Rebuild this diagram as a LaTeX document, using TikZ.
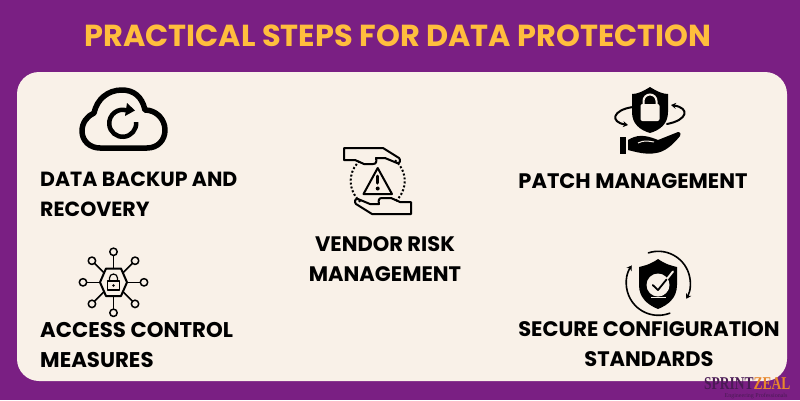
\documentclass[tikz,border=0pt]{standalone}
\usepackage{fontspec}
\setmainfont{Poppins}
\newfontfamily\logofont{Liberation Serif}
\usepackage{tikz}
\usetikzlibrary{arrows.meta}
\definecolor{bgpurple}{HTML}{7A1F83}
\definecolor{cardcream}{HTML}{F9F1E8}
\definecolor{titleyellow}{HTML}{FFBE3D}
\definecolor{logopurple}{HTML}{4A1A55}
\definecolor{logoorange}{HTML}{E8872B}
\newcommand{\labelfont}{\fontsize{21}{30}\selectfont\bfseries}
\begin{document}
\begin{tikzpicture}[x=1pt,y=-1pt,
  steplabel/.style={text=black,inner sep=0pt,font=\labelfont},
  iconline/.style={draw=black,line width=#1,line cap=round,line join=round},
  iconline/.default=2pt,
  icontip/.style={-{Stealth[length=5pt,width=6pt]}}]
\useasboundingbox (0,0) rectangle (800,400);
\fill[bgpurple] (0,0) rectangle (800,400);
\fill[cardcream,rounded corners=22pt] (17,72) rectangle (787,381);
\node[text=titleyellow,inner sep=0pt,font=\fontsize{30.4}{34}\selectfont\bfseries] (title) at (398,36) {PRACTICAL STEPS FOR DATA PROTECTION};
% labels
\node[steplabel,align=left,anchor=north west,font=\fontsize{20.5}{30}\selectfont\bfseries] (backup) at (40,172) {DATA BACKUP AND\\RECOVERY};
\node[steplabel,align=left,anchor=north west,font=\fontsize{21.3}{30}\selectfont\bfseries] (access) at (40,322) {ACCESS CONTROL\\MEASURES};
\node[steplabel,align=center] (vendor) at (385,259) {VENDOR RISK\\MANAGEMENT};
\node[steplabel] (patch) at (633,181) {PATCH MANAGEMENT};
\node[steplabel,align=center] (secure) at (649,344) {SECURE CONFIGURATION\\STANDARDS};
% cloud
\draw[iconline=5.5pt] (100,148) -- (147,148) .. controls (158,148) and (165,140) .. (165,130)
  .. controls (165,119) and (156,110) .. (145,110) .. controls (142,96) and (133,90) .. (122,90)
  .. controls (108,90) and (97,99) .. (94,113) .. controls (87,116) and (82,123) .. (82,131)
  .. controls (82,141) and (90,148) .. (100,148);
\draw[iconline=4.5pt,line cap=butt] (122.7,123.3) ++(-5:13.5) arc[start angle=-5,end angle=285,radius=13.5];
\fill (127,103) -- (135,110.5) -- (125,116) -- cycle;
% vendor
\draw[iconline] (344,148) -- (383,148) -- (399,158) .. controls (401,160) and (400,164) .. (397,163)
  -- (385,158) -- (376,158) .. controls (377,162) and (376,164) .. (373,164) -- (364,164) -- (355,160) -- (344,160) -- cycle;
\draw[iconline] (411,214) -- (372,214) -- (356,204) .. controls (354,202) and (355,198) .. (358,199)
  -- (370,204) -- (379,204) .. controls (378,200) and (379,198) .. (382,198) -- (391,198) -- (400,202) -- (411,202) -- cycle;
\draw[black,line width=2pt,dotted] (377.7,181) ++(130:27) arc[start angle=130,end angle=230,radius=27];
\draw[black,line width=2pt,dotted] (377.7,181) ++(-50:27) arc[start angle=-50,end angle=50,radius=27];
\draw[iconline] (377.7,168) -- (363.5,194) -- (392,194) -- cycle;
\draw[iconline=3pt] (377.7,176) -- (377.7,183);
\fill (377.7,188.5) circle (2);
% patch
\fill (650,87) .. controls (642,92) and (637,94) .. (632,94) -- (632,112) .. controls (632,124) and (640,130) .. (650,133)
  .. controls (660,130) and (668,124) .. (668,112) -- (668,94) .. controls (663,94) and (658,92) .. (650,87) -- cycle;
\fill[cardcream,rounded corners=2pt] (640.5,104) rectangle (659.5,121);
\draw[cardcream,line width=2pt] (643.5,104) -- (643.5,101) arc[start angle=180,end angle=360,radius=6.5] -- (656.5,104);
\draw[iconline,icontip] (633,107) .. controls (612,110) and (610,122) .. (628,125);
\draw[iconline,icontip] (667,124) .. controls (688,120) and (690,108) .. (671,105);
\fill (620,137) rectangle (626,154);
\fill (628,140) .. controls (636,135) and (644,134) .. (658,140) -- (678,132) .. controls (681,132) and (681,135) .. (680,136)
  .. controls (672,146) and (664,152) .. (656,153) .. controls (646,155) and (636,152) .. (628,150) -- cycle;
\draw[cardcream,line width=1pt] (638,143) .. controls (644,140) and (648,141) .. (654,142);
% access
\draw[iconline] (100,282.3) -- (106,268.5) -- (121,268.5) -- (127,282.3) -- (121,296) -- (106,296) -- cycle;
\foreach \ang in {0,45,...,315}{
  \draw[iconline=1.5pt] (113.5,282.3) ++(\ang:14) -- ++(\ang:13);
  \draw[iconline=1.5pt,fill=cardcream] (113.5,282.3) ++(\ang:30.5) circle (3.7);
}
\draw[iconline=1.2pt] (107.5,281) rectangle (119.5,290);
\draw[iconline=1.2pt] (109.5,281) -- (109.5,278) arc[start angle=180,end angle=360,radius=4] -- (117.5,281);
\fill (113.5,285.5) circle (1.3);
% secure
\fill (658,259) .. controls (651,264) and (644,266) .. (639,267) -- (639,285) .. controls (639,298) and (648,305) .. (658,309)
  .. controls (668,305) and (677,298) .. (677,285) -- (677,267) .. controls (672,266) and (665,264) .. (658,259) -- cycle;
\fill[cardcream] (658,285) circle (11.5);
\draw[cardcream,line width=2pt,line cap=round] (667,279) -- (673,271.5);
\draw[black,line width=1.8pt,line cap=round,line join=round] (652.7,285) -- (658,290) -- (666.5,279.5);
\draw[cardcream,line width=1.4pt] (651,297.3) -- (666,297.3);
\draw[iconline=1.6pt,icontip] (658.3,283.3) ++(252:32) arc[start angle=252,end angle=389,radius=32];
\draw[iconline=1.6pt,icontip] (658.3,283.3) ++(69:32) arc[start angle=69,end angle=214,radius=32];
% logo
\node[inner sep=0pt,anchor=base west,xscale=0.75,transform shape,font=\logofont\bfseries\fontsize{18}{18}\selectfont] (logo) at (704,389) {\textcolor{logopurple}{SPRINT}\textcolor{logoorange}{ZEAL}};
\node[inner sep=0pt,anchor=base,text=logopurple,font=\logofont\fontsize{6}{6}\selectfont] (tagline) at (756,397.5) {Engineering Professionals};
\end{tikzpicture}
\end{document}
